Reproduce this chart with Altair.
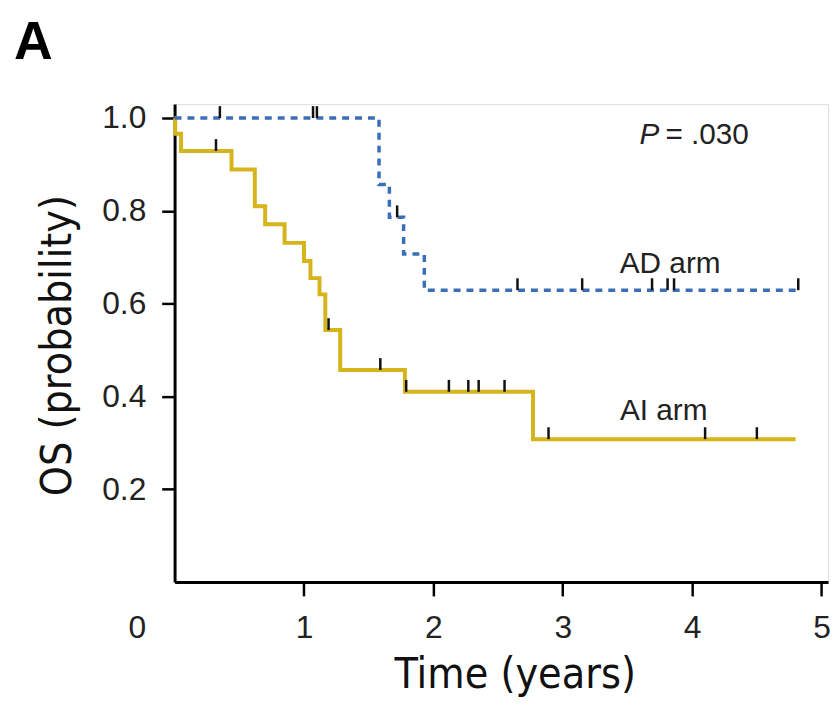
import altair as alt
import pandas as pd

# ---- data ----
# AD arm (Kaplan-Meier steps)
ad_time = [0.0, 1.58, 1.66, 1.77, 1.93, 4.82]
ad_surv = [1.0, 0.857, 0.786, 0.707, 0.629, 0.629]
ad_censor_time = [0.35, 1.07, 1.10, 1.72, 2.65, 3.15, 3.69, 3.81, 3.86, 4.82]
ad_censor_surv = [1.0, 1.0, 1.0, 0.786, 0.629, 0.629, 0.629, 0.629, 0.629, 0.629]

# AI arm (Kaplan-Meier steps)
ai_time = [0.0, 0.005, 0.05, 0.44, 0.62, 0.70, 0.85, 1.00, 1.05, 1.12, 1.165, 1.28, 1.78, 2.77, 4.80]
ai_surv = [1.0, 0.966, 0.929, 0.889, 0.810, 0.771, 0.731, 0.692, 0.655, 0.620, 0.543, 0.457, 0.410, 0.308, 0.308]
ai_censor_time = [0.32, 1.19, 1.59, 1.79, 2.12, 2.27, 2.35, 2.55, 2.89, 4.10, 4.50]
ai_censor_surv = [0.929, 0.543, 0.457, 0.410, 0.410, 0.410, 0.410, 0.410, 0.308, 0.308, 0.308]

# annotations
arm_labels = ["AD arm", "AI arm"]
arm_label_t = [3.83, 3.78]
arm_label_s = [0.665, 0.350]
p_symbol = "P"
p_value = "= .030"
p_t = 3.77
p_s = 0.944

x_ticks = [0, 1, 2, 3, 4, 5]
y_ticks = [0.2, 0.4, 0.6, 0.8, 1.0]

# ---- tables ----
ad_df = pd.DataFrame({"t": ad_time, "s": ad_surv})
ai_df = pd.DataFrame({"t": ai_time, "s": ai_surv})
cens_df = pd.DataFrame({"t": ad_censor_time + ai_censor_time,
                        "s": ad_censor_surv + ai_censor_surv})
arm_df = pd.DataFrame({"t": arm_label_t, "s": arm_label_s, "label": arm_labels})
p_df = pd.DataFrame({"t": [p_t], "s": [p_s], "sym": [p_symbol], "val": [p_value]})

LABEL_FONT = "Liberation Sans, Arial, Helvetica, sans-serif"
TITLE_FONT = "Liberation Sans Narrow, Arial Narrow, DejaVu Sans Condensed, Roboto Condensed, sans-serif"

x_scale = alt.Scale(domain=[0, 5.05], nice=False, zero=True)
y_scale = alt.Scale(domain=[0, 1.03], nice=False, zero=True)

x_axis = alt.Axis(
    values=x_ticks, format="d", title="Time (years)", grid=False,
    domainColor="black", domainWidth=3,
    tickColor="black", tickWidth=2.5, tickSize=14,
    tickOpacity={"condition": {"test": "datum.value === 0", "value": 0}, "value": 1},
    labelFont=LABEL_FONT, labelFontSize=32, labelColor="#222", labelPadding=17,
    labelOffset={"condition": {"test": "datum.value === 0", "value": -38}, "value": 0},
    labelFlush=False, labelOverlap=False,
    titleFont=TITLE_FONT, titleFontSize=43, titleFontWeight="normal", titleColor="#111",
    titleX=343, titleY=106, titleBaseline="alphabetic", titleAlign="center",
)
y_axis = alt.Axis(
    values=y_ticks, format=".1f", title="OS (probability)", grid=False,
    domainColor="black", domainWidth=3,
    tickColor="black", tickWidth=2.5, tickSize=13,
    labelFont=LABEL_FONT, labelFontSize=32, labelColor="#222", labelPadding=16,
    labelFlush=False, labelOverlap=False,
    titleFont=TITLE_FONT, titleFontSize=43, titleFontWeight="normal", titleColor="#111",
    titleX=-105, titleY=243, titleAngle=270, titleBaseline="alphabetic", titleAlign="center",
)

X = alt.X("t:Q", scale=x_scale, axis=x_axis)
Y = alt.Y("s:Q", scale=y_scale, axis=y_axis)

ai_line = alt.Chart(ai_df).mark_line(
    interpolate="step-after", strokeWidth=4, color="#d5b41c", strokeCap="butt"
).encode(x=X, y=Y)

ad_line = alt.Chart(ad_df).mark_line(
    interpolate="step-after", strokeWidth=3.5, color="#3a6fb8",
    strokeDash=[7, 6], strokeCap="butt"
).encode(x=X, y=Y)

censors = alt.Chart(cens_df).mark_tick(
    orient="vertical", size=12, thickness=2.5, color="#111", opacity=1, yOffset=-6
).encode(x=X, y=Y)

arm_text = alt.Chart(arm_df).mark_text(
    align="center", baseline="alphabetic", fontSize=30, font=LABEL_FONT, color="#222"
).encode(x=X, y=Y, text="label:N")

p_sym_text = alt.Chart(p_df).mark_text(
    align="right", baseline="alphabetic", fontSize=30, font=LABEL_FONT,
    fontStyle="italic", color="#222", dx=-3
).encode(x=X, y=Y, text="sym:N")

p_val_text = alt.Chart(p_df).mark_text(
    align="left", baseline="alphabetic", fontSize=30, font=LABEL_FONT,
    color="#222", dx=3
).encode(x=X, y=Y, text="val:N")

chart = alt.layer(
    ai_line, ad_line, censors, arm_text, p_sym_text, p_val_text
).properties(
    width=659, height=482,
    title=alt.TitleParams("A", anchor="start", frame="group", dx=-162, offset=33,
                          fontSize=54, font=LABEL_FONT, fontWeight="bold", color="black"),
    autosize=alt.AutoSizeParams(type="none"),
    padding={"left": 168, "top": 94, "right": 3, "bottom": 116},
).configure_view(stroke=None).configure(background="white")

chart.save("out.html", embed_options={"renderer": "svg", "actions": False})
